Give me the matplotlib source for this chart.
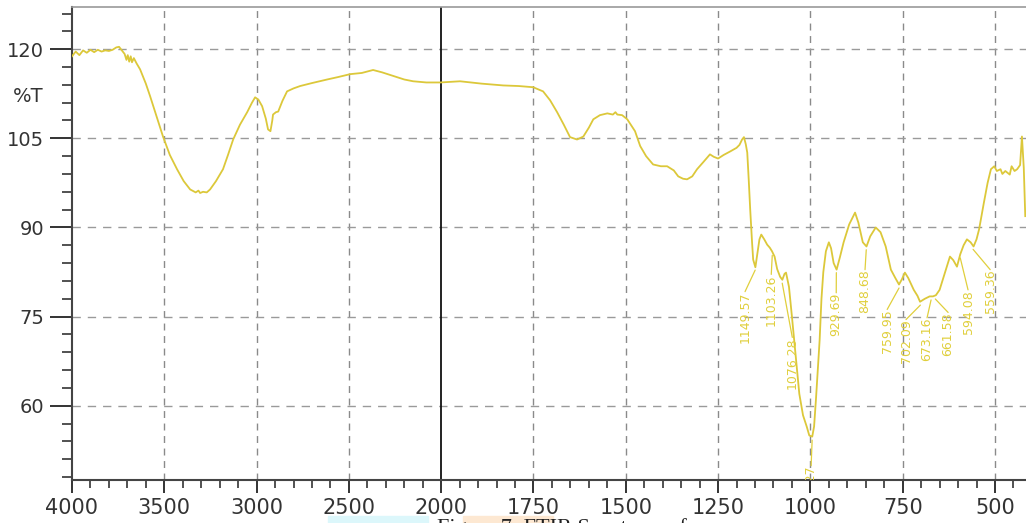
import numpy as np
import matplotlib
matplotlib.use("Agg")
import matplotlib.pyplot as plt
from matplotlib.ticker import FixedLocator, NullFormatter
from matplotlib.patches import Rectangle

# spectrum: wavenumber (cm-1) and %T
wavenumber = [4000, 3980, 3960, 3940, 3920, 3900, 3880, 3860, 3840, 3820, 3800, 3780,
              3760, 3745, 3730, 3715, 3705, 3698, 3690, 3682, 3675, 3665, 3650, 3631,
              3600, 3577, 3540, 3507, 3470, 3431, 3395, 3360, 3330, 3315, 3306, 3290,
              3270, 3252, 3220, 3182, 3155, 3127, 3090, 3051, 3025, 3008, 2990, 2970,
              2950, 2938, 2925, 2915, 2911, 2895, 2883, 2860, 2835, 2800, 2764, 2700,
              2618, 2560, 2493, 2430, 2369, 2320, 2260, 2200, 2152, 2080, 2005, 1949,
              1890, 1832, 1790, 1751, 1724, 1705, 1686, 1668, 1651, 1632, 1615, 1600,
              1588, 1570, 1550, 1535, 1528, 1523, 1510, 1496, 1475, 1461, 1445, 1426,
              1405, 1388, 1370, 1358, 1345, 1334, 1320, 1307, 1290, 1272, 1262, 1250,
              1235, 1217, 1200, 1192, 1185, 1180, 1175, 1171, 1167, 1163, 1158, 1155,
              1149, 1145, 1138, 1133, 1125, 1117, 1110, 1104, 1097, 1090, 1082, 1076,
              1070, 1066, 1058, 1050, 1040, 1030, 1020, 1010, 1003, 995, 990, 985,
              980, 975, 970, 965, 958, 950, 944, 937, 929, 920, 910, 895,
              879, 870, 858, 848, 838, 823, 810, 796, 782, 770, 760, 752,
              744, 735, 720, 710, 703, 690, 677, 668, 660, 650, 640, 630,
              622, 613, 603, 594, 585, 576, 566, 558, 550, 543, 530, 520,
              511, 502, 495, 485, 480, 472, 460, 455, 447, 440, 432, 427,
              422, 418]
transmittance = [118.8, 119.6, 119.0, 119.8, 119.4, 119.9, 119.5, 119.9, 119.6, 119.8, 119.7, 119.9,
                 120.3, 120.4, 119.8, 119.2, 118.2, 119.0, 117.9, 118.8, 117.8, 118.5, 117.6, 116.6,
                 114.2, 112.1, 108.5, 105.3, 102.2, 99.8, 97.8, 96.4, 95.9, 96.2, 95.8, 96.0,
                 95.9, 96.4, 97.8, 99.8, 102.2, 104.8, 107.3, 109.4, 111.0, 111.9, 111.5, 110.4,
                 108.3, 106.5, 106.2, 108.0, 109.0, 109.4, 109.5, 111.3, 112.9, 113.4, 113.8, 114.3,
                 114.9, 115.3, 115.8, 116.0, 116.5, 116.1, 115.5, 114.9, 114.6, 114.4, 114.4, 114.6,
                 114.2, 113.9, 113.8, 113.6, 112.9, 111.4, 109.4, 107.3, 105.2, 104.8, 105.3, 106.8,
                 108.2, 108.9, 109.2, 109.0, 109.4, 109.0, 108.9, 108.2, 106.2, 103.7, 102.0, 100.6,
                 100.3, 100.3, 99.6, 98.6, 98.2, 98.1, 98.6, 99.8, 101.0, 102.3, 101.9, 101.6,
                 102.2, 102.8, 103.4, 103.9, 104.8, 105.2, 104.0, 102.6, 98.0, 93.0, 87.5, 84.6,
                 83.3, 85.0, 88.0, 88.8, 88.0, 87.1, 86.6, 86.0, 85.1, 83.0, 81.7, 81.2,
                 82.2, 82.4, 80.0, 75.0, 68.5, 62.0, 58.4, 56.5, 55.0, 54.8, 56.5, 61.0,
                 66.0, 71.0, 78.0, 82.5, 86.0, 87.5, 86.5, 84.0, 82.9, 85.0, 87.5, 90.5,
                 92.5, 90.8, 87.5, 86.8, 88.5, 90.0, 89.2, 86.8, 82.9, 81.5, 80.4, 81.3,
                 82.4, 81.5, 79.5, 78.5, 77.5, 78.0, 78.4, 78.4, 78.6, 79.5, 81.5, 83.5,
                 85.1, 84.5, 83.4, 85.5, 87.0, 88.0, 87.5, 86.8, 88.0, 89.7, 94.2, 97.5,
                 99.8, 100.3, 99.5, 99.8, 99.0, 99.5, 98.9, 100.3, 99.5, 99.8, 100.5, 105.3,
                 100.0, 91.9]

# peak labels
peak_labels = ["1149.57", "1103.26", "1076.28", "995.27", "929.69", "848.68",
               "759.95", "702.09", "673.16", "661.58", "594.08", "559.36"]
peak_wn = [1149.57, 1103.26, 1076.28, 995.27, 929.69, 848.68,
           759.95, 702.09, 673.16, 661.58, 594.08, 559.36]
# where the label text sits (wavenumber, top of text in %T)
label_x = [1177, 1106, 1049, 998, 930, 852, 792, 741, 684, 627, 573, 513]
label_top = [79.2, 82.1, 71.5, 49.9, 79.0, 82.9, 76.2, 74.5, 74.8, 75.7, 79.5, 82.9]

xticks = [4000, 3500, 3000, 2500, 2000, 1750, 1500, 1250, 1000, 750, 500]
yticks = [60, 75, 90, 105, 120]

line_col = "#dcc83a"
text_col = "#e0cf3c"
tick_col = "#333333"


# the x axis is stretched by 2 below 2000 cm-1
def fwd(x):
    x = np.asarray(x, dtype=float)
    return np.where(x > 2000, 2000 + (x - 2000) / 2.0, x)


def inv(y):
    y = np.asarray(y, dtype=float)
    return np.where(y > 2000, 2000 + (y - 2000) * 2.0, y)


plt.rcParams['font.family'] = ['DejaVu Sans']

fig = plt.figure(figsize=(10.26, 5.23), dpi=100)
ax = fig.add_axes([72 / 1026, 1 - 480 / 523, 1 - 72 / 1026, (480 - 7) / 523])

ax.set_xscale('function', functions=(fwd, inv))
ax.set_xlim(4000, 416)
ax.set_ylim(47.5, 127.1)

ax.xaxis.set_major_locator(FixedLocator(xticks))
minor_x = list(range(3900, 2000, -100)) + list(range(1950, 400, -50))
ax.xaxis.set_minor_locator(FixedLocator([v for v in minor_x if v not in xticks]))
ax.xaxis.set_minor_formatter(NullFormatter())
ax.yaxis.set_major_locator(FixedLocator(yticks))
ax.yaxis.set_minor_locator(FixedLocator([v for v in range(48, 127, 3) if v not in yticks]))

ax.tick_params(axis='x', which='major', length=9, width=1.4, pad=4, labelsize=15,
               colors=tick_col)
ax.tick_params(axis='x', which='minor', length=6, width=1.2, colors=tick_col)
ax.tick_params(axis='y', which='major', length=16, width=1.4, pad=4, labelsize=14,
               colors=tick_col)
ax.tick_params(axis='y', which='minor', length=7, width=1.2, colors=tick_col)

for s in ['left', 'bottom']:
    ax.spines[s].set_color('#444444')
    ax.spines[s].set_linewidth(1.5)
ax.spines['top'].set_color('#999999')
ax.spines['top'].set_linewidth(1.2)
ax.spines['right'].set_visible(False)

# dashed grid
for v in xticks:
    if v not in (4000, 2000):
        ax.axvline(v, color='#8a8a8a', lw=1.0, ls=(0, (5, 4)), zorder=1)
for v in yticks:
    ax.axhline(v, color='#9a9a9a', lw=1.0, ls=(0, (6, 5)), zorder=1)
ax.axvline(2000, color='#111111', lw=1.3, zorder=2)

ax.plot(wavenumber, transmittance, color=line_col, lw=1.3, zorder=3)

wn_sorted = np.array(wavenumber[::-1], dtype=float)
t_sorted = np.array(transmittance[::-1], dtype=float)
for lab, pw, lx, ly in zip(peak_labels, peak_wn, label_x, label_top):
    py = np.interp(pw, wn_sorted, t_sorted)
    ax.annotate('', xy=(pw, py - 0.6), xytext=(lx, ly),
                arrowprops=dict(arrowstyle='-', color=text_col, lw=0.9,
                                shrinkA=0, shrinkB=0),
                annotation_clip=False, zorder=4)
    # label text clipped to the plot area (the lowest one runs under the axis)
    ax.text(lx, ly, lab, rotation=90, ha='center', va='top', fontsize=9,
            color=text_col, clip_on=True, zorder=4)

fig.text(28 / 1026, 1 - 96 / 523, '%T', ha='center', va='center', fontsize=14,
         color=tick_col)

# caption cut off at the bottom of the picture
fig.patches.append(Rectangle((328 / 1026, 0), 100 / 1026, 7 / 523,
                             transform=fig.transFigure, color='#dcf7fb', zorder=0))
fig.patches.append(Rectangle((463 / 1026, 0), 90 / 1026, 7 / 523,
                             transform=fig.transFigure, color='#fde8d2', zorder=0))
fig.text(437 / 1026, 1 - 518 / 523, 'Figure 7: FTIR Spectrum of', ha='left', va='top',
         fontsize=16, family='Liberation Serif', color='#222222')

fig.savefig('out.png', dpi=100)
